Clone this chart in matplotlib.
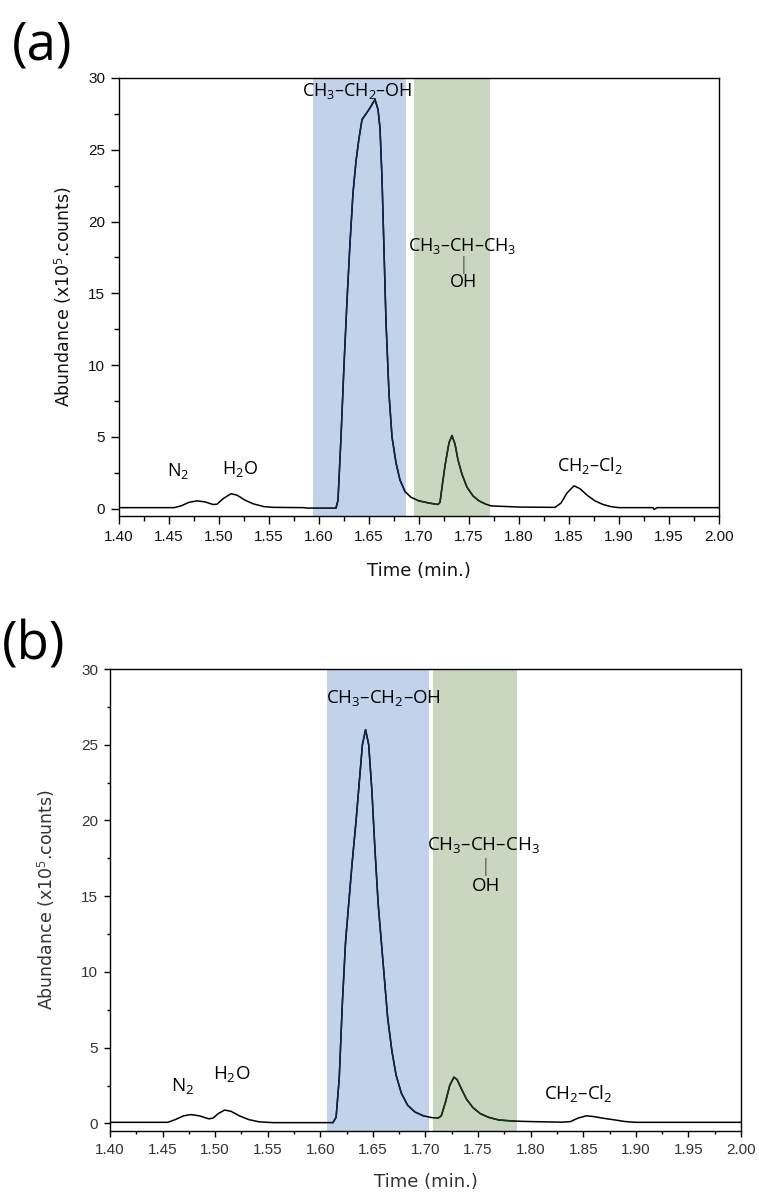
import numpy as np
import matplotlib
matplotlib.use('Agg')
import matplotlib.pyplot as plt
from matplotlib.ticker import MultipleLocator

plt.rcParams.update({
    'font.family': ['Liberation Sans', 'DejaVu Sans'],
    'mathtext.fontset': 'custom',
    'mathtext.rm': 'Open Sans',
    'mathtext.it': 'Open Sans:italic',
    'mathtext.bf': 'Open Sans:bold',
})

# chromatogram (a): retention time (min) and abundance (x10^5 counts)
time_a = [1.40, 1.455, 1.462, 1.470, 1.478, 1.486, 1.494, 1.498, 1.504, 1.512,
          1.518, 1.526, 1.534, 1.545, 1.555, 1.585, 1.588, 1.617, 1.619, 1.622,
          1.625, 1.628, 1.631, 1.634, 1.637, 1.640, 1.643, 1.650, 1.656, 1.659,
          1.661, 1.663, 1.665, 1.667, 1.670, 1.673, 1.677, 1.681, 1.686, 1.692,
          1.700, 1.710, 1.719, 1.721, 1.723, 1.726, 1.730, 1.733, 1.736, 1.739,
          1.743, 1.748, 1.754, 1.760, 1.766, 1.772, 1.790, 1.800, 1.836, 1.842,
          1.848, 1.855, 1.861, 1.868, 1.876, 1.884, 1.892, 1.900, 1.934, 1.935,
          1.938, 2.00]
abund_a = [0.08, 0.08, 0.2, 0.45, 0.55, 0.48, 0.3, 0.32, 0.7, 1.05,
           0.95, 0.6, 0.35, 0.15, 0.1, 0.08, 0.05, 0.05, 0.6, 5.0,
           10.0, 14.5, 18.5, 22.0, 24.2, 25.8, 27.1, 27.8, 28.5, 27.8,
           26.5, 23.0, 18.0, 13.0, 8.0, 5.0, 3.2, 2.0, 1.2, 0.8,
           0.55, 0.4, 0.3, 0.45, 1.5, 3.0, 4.6, 5.1, 4.5, 3.4,
           2.4, 1.5, 0.9, 0.55, 0.35, 0.2, 0.15, 0.12, 0.1, 0.4,
           1.1, 1.6, 1.4, 0.95, 0.55, 0.3, 0.15, 0.08, 0.08, -0.05,
           0.08, 0.08]

# chromatogram (b)
time_b = [1.40, 1.455, 1.462, 1.470, 1.477, 1.485, 1.494, 1.498, 1.503, 1.509,
          1.515, 1.523, 1.532, 1.542, 1.555, 1.612, 1.615, 1.618, 1.621, 1.624,
          1.627, 1.630, 1.634, 1.637, 1.640, 1.643, 1.646, 1.649, 1.652, 1.655,
          1.658, 1.661, 1.664, 1.668, 1.672, 1.677, 1.683, 1.690, 1.698, 1.706,
          1.712, 1.715, 1.719, 1.723, 1.727, 1.730, 1.734, 1.739, 1.745, 1.752,
          1.760, 1.770, 1.785, 1.800, 1.830, 1.838, 1.845, 1.853, 1.860, 1.868,
          1.878, 1.890, 1.900, 2.00]
abund_b = [0.07, 0.07, 0.25, 0.5, 0.58, 0.5, 0.3, 0.35, 0.65, 0.88,
           0.8, 0.5, 0.25, 0.1, 0.05, 0.05, 0.4, 3.0, 8.0, 12.0,
           14.5, 17.0, 20.0, 22.5, 25.0, 26.0, 25.0, 22.0, 18.0, 14.5,
           12.0, 9.5, 7.0, 4.8, 3.2, 2.0, 1.2, 0.75, 0.5, 0.38,
           0.35, 0.5, 1.4, 2.5, 3.05, 2.9, 2.3, 1.6, 1.05, 0.65,
           0.4, 0.22, 0.15, 0.12, 0.08, 0.12, 0.35, 0.5, 0.45, 0.35,
           0.25, 0.12, 0.07, 0.07]

# shaded retention windows (ethanol, isopropanol)
bands_a = [(1.594, 1.687), (1.695, 1.771)]
bands_b = [(1.606, 1.703), (1.707, 1.787)]

band_colors = ['#c2d2ea', '#c9d7c0']
line_colors = ['#0d2550', '#1b3318']

chem = 'Open Sans'


def draw_panel(ax, t, y, bands, tick_color, ylab_x, xlab_y, tlen):
    t = np.array(t)
    y = np.array(y)
    for (x0, x1), c in zip(bands, band_colors):
        ax.axvspan(x0, x1, color=c, lw=0, zorder=0)
    ax.plot(t, y, color='black', lw=1.1, zorder=2)
    for (x0, x1), c in zip(bands, line_colors):
        m = (t >= x0) & (t <= x1)
        ax.plot(t[m], y[m], color=c, lw=1.1, zorder=3)
    ax.set_xlim(1.40, 2.00)
    ax.set_ylim(-0.5, 30)
    ax.xaxis.set_major_locator(MultipleLocator(0.05))
    ax.xaxis.set_minor_locator(MultipleLocator(0.025))
    ax.yaxis.set_major_locator(MultipleLocator(5))
    ax.yaxis.set_minor_locator(MultipleLocator(2.5))
    ax.xaxis.set_major_formatter(plt.FuncFormatter(lambda v, p: '%.2f' % v))
    ax.tick_params(which='major', direction='out', length=tlen, width=1,
                   labelsize=11, labelcolor=tick_color, pad=4)
    ax.tick_params(which='minor', direction='out', length=tlen * 0.55, width=1)
    for s in ax.spines.values():
        s.set_linewidth(1)
    xl = ax.set_xlabel('Time (min.)', fontsize=13, family=['DejaVu Sans'],
                       color=tick_color)
    yl = ax.set_ylabel('Abundance (x10$^5$.counts)', fontsize=12.5,
                       family=['DejaVu Sans'], color=tick_color)
    xl.set_va('center')
    yl.set_va('center')
    ax.xaxis.set_label_coords(0.5, xlab_y)
    ax.yaxis.set_label_coords(ylab_x, 0.5)


fig = plt.figure(figsize=(7.59, 11.93), dpi=100)
ax_a = fig.add_axes([0.1568, 0.5675, 0.7905, 0.3672])
ax_b = fig.add_axes([0.1449, 0.0520, 0.8314, 0.3872])

draw_panel(ax_a, time_a, abund_a, bands_a, '#111111', -0.093, -0.126, 6)
draw_panel(ax_b, time_b, abund_b, bands_b, '#333333', -0.101, -0.110, 4.5)

fs = 13
# labels (a)
ax_a.text(1.638, 29.1, 'CH$_3$–CH$_2$–OH', family=chem, fontsize=fs, ha='center', va='center', zorder=4)
ax_a.text(1.743, 18.3, 'CH$_3$–CH–CH$_3$', family=chem, fontsize=fs, ha='center', va='center', zorder=4)
ax_a.text(1.7445, 17.0, '|', family='DejaVu Sans', fontsize=12, ha='center', va='center', color='#666666', zorder=4)
ax_a.text(1.744, 15.8, 'OH', family=chem, fontsize=fs, ha='center', va='center', zorder=4)
ax_a.text(1.459, 2.6, 'N$_2$', family=chem, fontsize=fs, ha='center', va='center')
ax_a.text(1.521, 2.75, 'H$_2$O', family=chem, fontsize=fs, ha='center', va='center')
ax_a.text(1.871, 3.0, 'CH$_2$–Cl$_2$', family=chem, fontsize=fs, ha='center', va='center')

# labels (b)
ax_b.text(1.660, 28.1, 'CH$_3$–CH$_2$–OH', family=chem, fontsize=fs + 0.5, ha='center', va='center', zorder=4)
ax_b.text(1.755, 18.4, 'CH$_3$–CH–CH$_3$', family=chem, fontsize=fs + 0.5, ha='center', va='center', zorder=4)
ax_b.text(1.7575, 16.9, '|', family='DejaVu Sans', fontsize=12, ha='center', va='center', color='#666666', zorder=4)
ax_b.text(1.758, 15.7, 'OH', family=chem, fontsize=fs + 0.5, ha='center', va='center', zorder=4)
ax_b.text(1.469, 2.45, 'N$_2$', family=chem, fontsize=fs + 0.5, ha='center', va='center')
ax_b.text(1.516, 3.25, 'H$_2$O', family=chem, fontsize=fs + 0.5, ha='center', va='center')
ax_b.text(1.845, 2.0, 'CH$_2$–Cl$_2$', family=chem, fontsize=fs + 0.5, ha='center', va='center')

fig.text(0.055, 0.962, '(a)', family=chem, fontsize=38, ha='center', va='center')
fig.text(0.002, 0.459, '(b)', family=chem, fontsize=38, ha='left', va='center')

fig.savefig('out.png', dpi=100)
